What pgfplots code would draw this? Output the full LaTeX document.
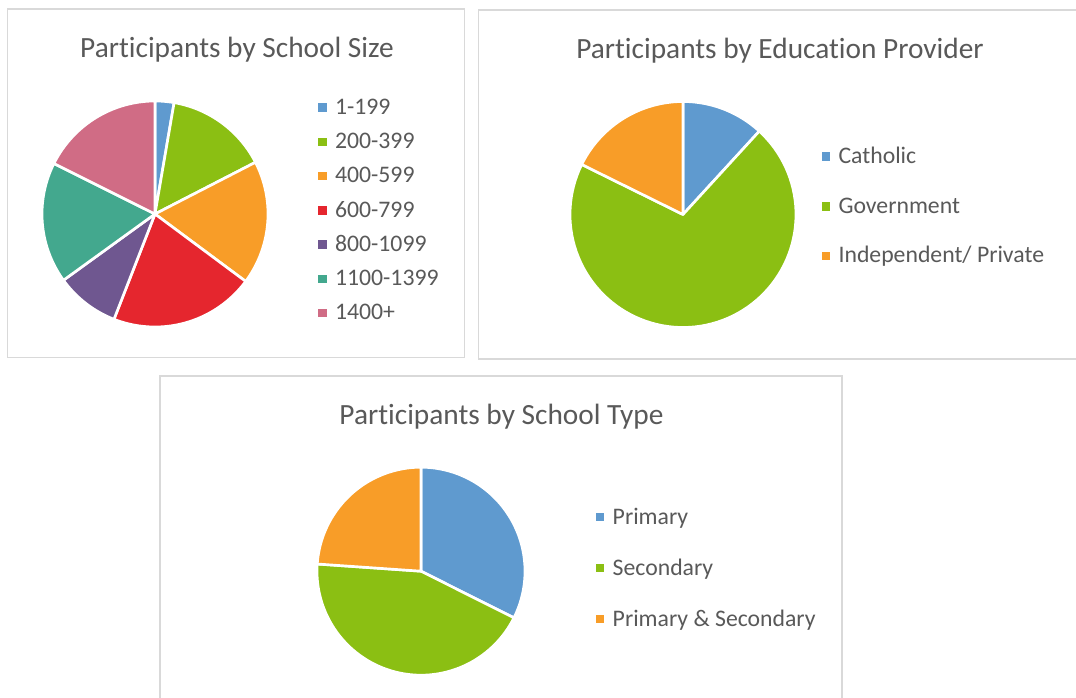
\documentclass[border=0pt]{standalone}
\usepackage{pgfplots}
\pgfplotsset{compat=1.18}
\usepgfplotslibrary{polar}
\usepackage{fontspec}
\setmainfont[Ligatures=NoCommon]{Carlito}
\definecolor{cBlue}{HTML}{5F9ACF}
\definecolor{cGreen}{HTML}{8BBF13}
\definecolor{cOrange}{HTML}{F89D28}
\definecolor{cRed}{HTML}{E5262E}
\definecolor{cPurple}{HTML}{6F5790}
\definecolor{cTeal}{HTML}{43A88E}
\definecolor{cPink}{HTML}{D06C85}
\definecolor{txt}{HTML}{595959}
\definecolor{frame}{HTML}{D9D9D9}

% slices: value/colour, clockwise from 12 o'clock
\newcommand{\pieslices}[1]{%
  \gdef\piesum{0}%
  \foreach \v/\col in {#1}{\pgfmathsetmacro\tmpa{\piesum+\v}\global\let\piesum\tmpa}%
  \gdef\piecum{0}%
  \foreach \v/\col in {#1}{%
    \pgfmathsetmacro\angA{90-((\piecum+\v)/\piesum)*360}%
    \pgfmathsetmacro\angB{90-(\piecum/\piesum)*360}%
    \edef\doplot{\noexpand\addplot[fill=\col, draw=white, line width=2pt, line join=round, domain=\angA:\angB, samples=90] {1} -- (axis cs:0,0) -- cycle;}%
    \doplot
    \pgfmathsetmacro\tmpa{\piecum+\v}\global\let\piecum\tmpa
  }%
}

\pgfplotsset{
  piestyle/.style={
    hide axis, scale only axis, clip=false,
    xmin=0, xmax=360, ymin=0, ymax=1,
    anchor=center,
    legend image code/.code={\fill[##1, draw=none] (0pt,-2.1pt) rectangle (6.4pt,4.3pt);},
    legend style={draw=none, fill=none, inner sep=0pt, outer sep=0pt,
      anchor=north west, text=txt,
      font=\fontsize{17.8}{20}\selectfont,
      nodes={inner sep=0pt, text height=12.5pt, text depth=4.45pt},
      /tikz/every odd column/.append style={column sep=6.2pt}},
    legend cell align=left,
  }
}

\begin{document}
\begin{tikzpicture}[x=0.75pt, y=-0.75pt]
\useasboundingbox (0,0) rectangle (1076,698);
\fill[white] (0,0) rectangle (1076,698);
\coordinate (c1) at (155,214);
\coordinate (c2) at (683,214.5);
\coordinate (c3) at (421,571.2);
% panel frames
\draw[frame, line width=1pt] (7.5,9) rectangle (464.5,357.5);
\draw[frame, line width=1pt] (478.5,10) rectangle (1085,359);
\draw[frame, line width=1pt] (160,376) rectangle (842,705);

% titles
\node[anchor=base, text=txt, font=\fontsize{22}{26}\selectfont, inner sep=0pt] at (237,57.5) {Participants by School Size};
\node[anchor=base, text=txt, font=\fontsize{22}{26}\selectfont, inner sep=0pt] at (780,59) {Participants by Education Provider};
\node[anchor=base, text=txt, font=\fontsize{22}{26}\selectfont, inner sep=0pt] at (501.5,425) {Participants by School Type};

% chart 1
\begin{polaraxis}[piestyle, at={(c1)}, width=169.5pt, height=169.5pt,
  legend style={at={(1.2226,1.0146)}, row sep=8.75pt},
  legend entries={1-199,200-399,400-599,600-799,800-1099,1100-1399,1400+}]
\pieslices{2.7/cBlue, 14.7/cGreen, 17.7/cOrange, 20.7/cRed, 9.1/cPurple, 17.3/cTeal, 17.6/cPink}
\end{polaraxis}

% chart 2
\begin{polaraxis}[piestyle, at={(c2)}, width=169.5pt, height=169.5pt,
  legend style={at={(1.114,0.800)}, row sep=20.35pt},
  legend entries={Catholic,Government,Independent/ Private}]
\pieslices{11.8/cBlue, 70.5/cGreen, 17.7/cOrange}
\end{polaraxis}

% chart 3
\begin{polaraxis}[piestyle, at={(c3)}, width=156pt, height=156pt,
  legend style={at={(1.341,0.807)}, row sep=21.3pt},
  legend entries={Primary,Secondary,Primary \& Secondary}]
\pieslices{32.4/cBlue, 43.7/cGreen, 23.9/cOrange}
\end{polaraxis}
\end{tikzpicture}
\end{document}
